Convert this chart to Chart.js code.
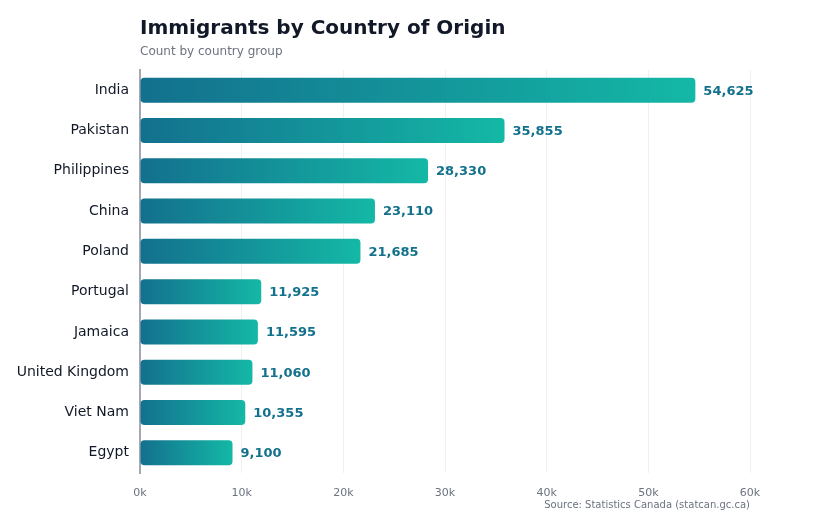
<!DOCTYPE html>
<html>
<head>
<meta charset="utf-8">
<script src="https://cdn.jsdelivr.net/npm/chart.js@4.4.1/dist/chart.umd.min.js"></script>
<style>
  html, body { margin: 0; padding: 0; background: #fff; }
  #wrap { position: relative; width: 820px; height: 520px; font-family: 'DejaVu Sans', sans-serif; }
  #title { position: absolute; left: 140px; top: 15px; font-size: 20px; font-weight: bold; color: #111827; }
  #subtitle { position: absolute; left: 140px; top: 44px; font-size: 12px; color: #6b7280; }
  #source { position: absolute; right: 70px; top: 499px; font-size: 10px; color: #6b7280; }
  canvas { position: absolute; left: 0; top: 0; }
</style>
</head>
<body>
<div id="wrap">
  <canvas id="chart" width="820" height="520"></canvas>
  <div id="title">Immigrants by Country of Origin</div>
  <div id="subtitle">Count by country group</div>
  <div id="source">Source: Statistics Canada (statcan.gc.ca)</div>
</div>
<script>
(function () {
  'use strict';

  const countries = ['India', 'Pakistan', 'Philippines', 'China', 'Poland', 'Portugal', 'Jamaica', 'United Kingdom', 'Viet Nam', 'Egypt'];
  const immigrants = [54625, 35855, 28330, 23110, 21685, 11925, 11595, 11060, 10355, 9100];
  const xTicks = [0, 10000, 20000, 30000, 40000, 50000, 60000];

  const valueLabels = {
    id: 'valueLabels',
    afterDatasetsDraw: function (chart) {
      const ctx = chart.ctx;
      const meta = chart.getDatasetMeta(0);
      ctx.save();
      ctx.font = 'bold 13px "DejaVu Sans", sans-serif';
      ctx.fillStyle = '#13718c';
      ctx.textBaseline = 'middle';
      ctx.textAlign = 'left';
      meta.data.forEach(function (bar, i) {
        ctx.fillText(immigrants[i].toLocaleString('en-US'), bar.x + 8, bar.y + 1);
      });
      ctx.restore();
    }
  };

  function barGradient(context) {
    const chart = context.chart;
    const xScale = chart.scales.x;
    if (!chart.chartArea || !xScale || context.raw == null) return '#14b8a6';
    const x0 = xScale.getPixelForValue(0);
    const x1 = xScale.getPixelForValue(context.raw);
    if (!isFinite(x0) || !isFinite(x1) || x1 <= x0) return '#14b8a6';
    const g = chart.ctx.createLinearGradient(x0, 0, x1, 0);
    g.addColorStop(0, '#13708e');
    g.addColorStop(1, '#14b8a6');
    return g;
  }

  new Chart(document.getElementById('chart').getContext('2d'), {
    type: 'bar',
    data: {
      labels: countries,
      datasets: [{
        data: immigrants,
        backgroundColor: barGradient,
        borderRadius: 4,
        borderSkipped: false,
        barPercentage: 0.62,
        categoryPercentage: 1
      }]
    },
    options: {
      indexAxis: 'y',
      responsive: false,
      animation: false,
      layout: { padding: { top: 70, right: 70, bottom: 20, left: 0 } },
      plugins: {
        legend: { display: false },
        tooltip: { enabled: false }
      },
      scales: {
        x: {
          min: 0,
          max: 60000,
          afterFit: function (scale) { scale.height = 27; },
          afterBuildTicks: function (scale) {
            scale.ticks = xTicks.map(function (v) { return { value: v }; });
          },
          ticks: {
            padding: 14,
            color: '#6b7280',
            font: { family: 'DejaVu Sans', size: 11 },
            callback: function (value) { return (value / 1000) + 'k'; }
          },
          grid: { color: 'rgba(0, 0, 0, 0.06)', drawTicks: false },
          border: { display: false }
        },
        y: {
          afterFit: function (scale) { scale.width = 140; },
          ticks: {
            padding: 3,
            color: '#111827',
            font: { family: 'DejaVu Sans', size: 14 }
          },
          grid: { display: false },
          border: { color: '#a3a8b3', width: 2 }
        }
      }
    },
    plugins: [valueLabels]
  });
})();
</script>
</body>
</html>
